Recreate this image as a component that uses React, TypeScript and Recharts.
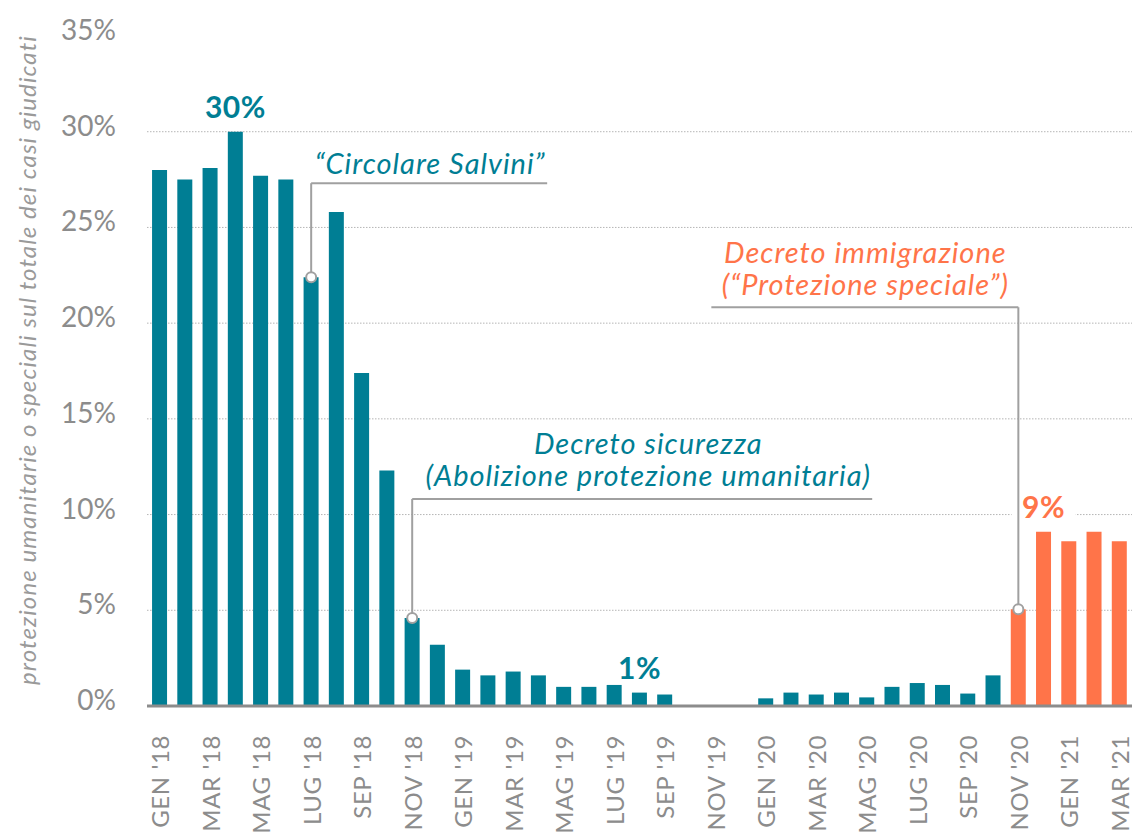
import React from "react";
import {
  BarChart,
  Bar,
  Cell,
  XAxis,
  YAxis,
  CartesianGrid,
  ReferenceDot,
} from "recharts";

const months = [
  "GEN '18", "FEB '18", "MAR '18", "APR '18", "MAG '18", "GIU '18",
  "LUG '18", "AGO '18", "SEP '18", "OTT '18", "NOV '18", "DIC '18",
  "GEN '19", "FEB '19", "MAR '19", "APR '19", "MAG '19", "GIU '19",
  "LUG '19", "AGO '19", "SEP '19", "OTT '19", "NOV '19", "DIC '19",
  "GEN '20", "FEB '20", "MAR '20", "APR '20", "MAG '20", "GIU '20",
  "LUG '20", "AGO '20", "SEP '20", "OTT '20", "NOV '20", "DIC '20",
  "GEN '21", "FEB '21", "MAR '21",
];

// % of cases granted humanitarian / special protection
const shares = [
  28.0, 27.5, 28.1, 30.0, 27.7, 27.5, 22.4, 25.8, 17.4, 12.3, 4.6, 3.2,
  1.9, 1.6, 1.8, 1.6, 1.0, 1.0, 1.1, 0.7, 0.6, 0, 0, 0,
  0.4, 0.7, 0.6, 0.7, 0.45, 1.0, 1.2, 1.1, 0.65, 1.6, 5.05, 9.1,
  8.6, 9.1, 8.6,
];

const firstSpecialMonth = "NOV '20";

const yTicks = [0, 5, 10, 15, 20, 25, 30, 35];
const gridValues = [5, 10, 15, 20, 25, 30];

const valueLabels = [
  { month: "APR '18", text: "30%" },
  { month: "AGO '19", text: "1%" },
  { month: "DIC '20", text: "9%" },
];

const events = [
  { month: "LUG '18", lines: ["“Circolare Salvini”"] },
  { month: "NOV '18", lines: ["Decreto sicurezza", "(Abolizione protezione umanitaria)"] },
  { month: "NOV '20", lines: ["Decreto immigrazione", "(“Protezione speciale”)"] },
];

const TEAL = "#007e94";
const ORANGE = "#ff7449";
const GRAY = "#8c8c8c";
const LEADER = "#a0a0a0";
const FONT = "Lato, 'Open Sans', sans-serif";

const specialStart = months.indexOf(firstSpecialMonth);
const data = months.map((month, i) => ({
  month,
  share: shares[i],
  special: i >= specialStart,
}));
const valueOf = (m: string) => shares[months.indexOf(m)];
const colorOf = (m: string) => (months.indexOf(m) >= specialStart ? ORANGE : TEAL);

// leader geometry, in px relative to the bar top
const leaderStyle: Record<string, { rise: number; from: number; to: number; textDx: number; firstBaseline: number }> = {
  "LUG '18": { rise: 94, from: 0, to: 236, textDx: 119, firstBaseline: -103 },
  "NOV '18": { rise: 119, from: 0, to: 460, textDx: 236, firstBaseline: -164 },
  "NOV '20": { rise: 302, from: -307, to: 0, textDx: -153, firstBaseline: -346 },
};

function XTick({ x, y, payload }: any) {
  return (
    <g transform={`translate(${x},${y})`}>
      <text
        transform="rotate(-90)"
        x={-21}
        y={0}
        textAnchor="end"
        dominantBaseline="central"
        fill={GRAY}
        fontSize={24}
        letterSpacing={0.6}
        fontFamily={FONT}
      >
        {payload.value}
      </text>
    </g>
  );
}

function YTick({ y, payload }: any) {
  return (
    <text
      x={116}
      y={y - 7}
      textAnchor="end"
      dominantBaseline="central"
      fill={GRAY}
      fontSize={28}
      fontFamily={FONT}
    >
      {payload.value}%
    </text>
  );
}

export default function App() {
  return (
    <div style={{ position: "absolute", left: 0, top: 0, background: "#fff" }}>
      <BarChart
        width={1135}
        height={834}
        data={data}
        margin={{ top: 36, right: 3, left: 0, bottom: 0 }}
        barCategoryGap="20%"
      >
        <CartesianGrid
          vertical={false}
          horizontalValues={gridValues}
          stroke="#b5b5b5"
          strokeDasharray="1.5 1.5"
        />
        <XAxis
          dataKey="month"
          interval={1}
          height={128}
          tickLine={false}
          axisLine={{ stroke: GRAY, strokeWidth: 3 }}
          tick={<XTick />}
        />
        <YAxis
          width={147}
          domain={[0, 35]}
          ticks={yTicks}
          axisLine={false}
          tickLine={false}
          tick={<YTick />}
          label={{
            content: () => (
              <text
                transform="translate(26,360) rotate(-90)"
                textAnchor="middle"
                dominantBaseline="central"
                fill="#9a9a9a"
                fontSize={24}
                letterSpacing={1.1}
                fontStyle="italic"
                fontFamily={FONT}
              >
                protezione umanitarie o speciali sul totale dei casi giudicati
              </text>
            ),
          }}
        />
        <Bar dataKey="share" isAnimationActive={false}>
          {data.map((d) => (
            <Cell key={d.month} fill={d.special ? ORANGE : TEAL} />
          ))}
        </Bar>
        {valueLabels.map((l) => (
          <ReferenceDot
            key={l.month}
            x={l.month}
            y={valueOf(l.month)}
            shape={(p: any) => (
              <g>
                {l.text === "9%" && (
                  <rect x={p.cx - 32} y={p.cy - 42} width={64} height={28} fill="#fff" />
                )}
                <text
                  x={p.cx}
                  y={p.cy - 14}
                  textAnchor="middle"
                  fill={colorOf(l.month)}
                  fontSize={30}
                  fontWeight={700}
                  letterSpacing={0.5}
                  fontFamily={FONT}
                >
                  {l.text}
                </text>
              </g>
            )}
          />
        ))}
        {events.map((e) => {
          const s = leaderStyle[e.month];
          const color = colorOf(e.month);
          return (
            <ReferenceDot
              key={e.month}
              x={e.month}
              y={valueOf(e.month)}
              shape={(p: any) => (
                <g>
                  <polyline
                    points={`${p.cx + s.from},${p.cy - s.rise} ${p.cx + s.to},${p.cy - s.rise}`}
                    stroke={LEADER}
                    strokeWidth={2}
                    fill="none"
                  />
                  <line
                    x1={p.cx}
                    y1={p.cy - s.rise}
                    x2={p.cx}
                    y2={p.cy}
                    stroke={LEADER}
                    strokeWidth={2}
                  />
                  <circle cx={p.cx} cy={p.cy} r={5} fill="#fff" stroke={LEADER} strokeWidth={2} />
                  {e.lines.map((line, i) => (
                    <text
                      key={i}
                      x={p.cx + s.textDx}
                      y={p.cy + s.firstBaseline + i * 32}
                      textAnchor="middle"
                      fill={color}
                      fontSize={29}
                      letterSpacing={1}
                      fontStyle="italic"
                      fontFamily={FONT}
                    >
                      {line}
                    </text>
                  ))}
                </g>
              )}
            />
          );
        })}
      </BarChart>
    </div>
  );
}
